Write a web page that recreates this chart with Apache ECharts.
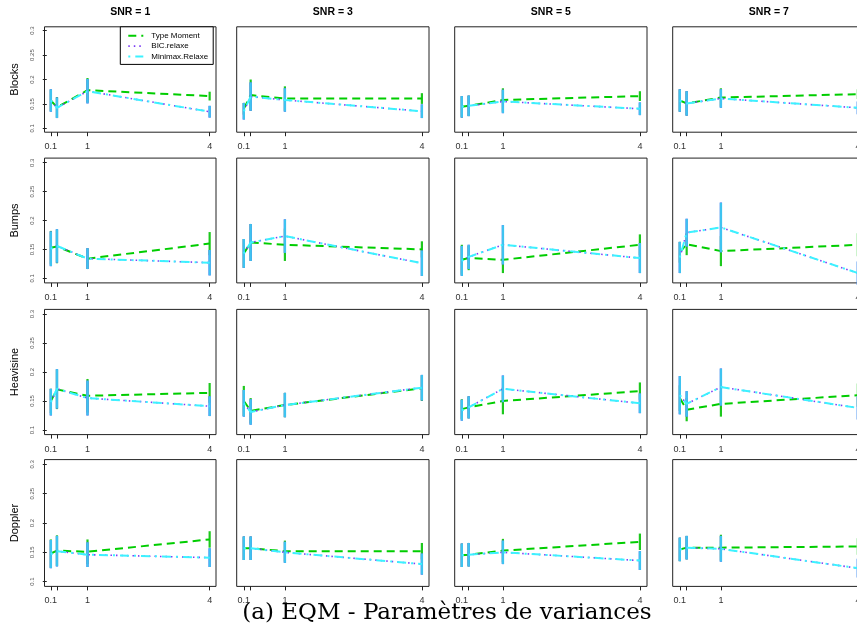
<!DOCTYPE html>
<html><head><meta charset="utf-8">
<script src="https://cdn.jsdelivr.net/npm/echarts@6/dist/echarts.min.js"></script>
<style>html,body{margin:0;padding:0;background:#fff}#c{width:857px;height:633px}</style>
</head><body><div id="c"></div>
<script>
// ---- data ----
const xValues = [0.1, 0.25, 1, 4];
const xTickLabels = [0.1, 1, 4];
const yTicks = [0.1, 0.15, 0.2, 0.25, 0.3];
const signals = ['Blocks', 'Bumps', 'Heavisine', 'Doppler'];
const snrLevels = [1, 3, 5, 7];
const methods = ['Type Moment', 'BIC.relaxe', 'Minimax.Relaxe'];

// [signal][snr][x]
const typeMomentMean = [
  [[0.157,0.143,0.178,0.166],[0.140,0.168,0.161,0.161],[0.144,0.146,0.158,0.166],[0.157,0.151,0.163,0.170]],
  [[0.153,0.155,0.134,0.160],[0.143,0.162,0.158,0.150],[0.132,0.135,0.132,0.158],[0.145,0.159,0.147,0.158]],
  [[0.150,0.170,0.159,0.164],[0.150,0.133,0.143,0.172],[0.136,0.139,0.150,0.167],[0.155,0.135,0.145,0.160]],
  [[0.148,0.153,0.151,0.172],[0.157,0.157,0.152,0.152],[0.145,0.146,0.153,0.168],[0.155,0.158,0.158,0.160]]
];
const typeMomentErr = [
  [[0.022,0.021,0.025,0.009],[0.012,0.032,0.025,0.011],[0.022,0.021,0.024,0.010],[0.023,0.025,0.019,0.010]],
  [[0.029,0.029,0.018,0.020],[0.025,0.032,0.028,0.014],[0.026,0.021,0.023,0.018],[0.018,0.019,0.026,0.020]],
  [[0.021,0.034,0.029,0.017],[0.026,0.022,0.021,0.022],[0.017,0.019,0.023,0.015],[0.022,0.020,0.022,0.020]],
  [[0.024,0.026,0.021,0.014],[0.020,0.020,0.018,0.014],[0.020,0.020,0.020,0.014],[0.020,0.020,0.022,0.014]]
];
const bicRelaxeMean = [
  [[0.157,0.142,0.176,0.134],[0.135,0.165,0.158,0.135],[0.144,0.146,0.155,0.140],[0.157,0.151,0.161,0.142]],
  [[0.151,0.156,0.134,0.127],[0.143,0.162,0.173,0.126],[0.130,0.137,0.158,0.135],[0.136,0.179,0.188,0.109]],
  [[0.148,0.171,0.155,0.141],[0.146,0.131,0.143,0.173],[0.134,0.139,0.171,0.146],[0.160,0.145,0.174,0.138]],
  [[0.147,0.152,0.146,0.141],[0.157,0.157,0.150,0.130],[0.145,0.146,0.150,0.136],[0.155,0.158,0.156,0.123]]
];
const bicRelaxeErr = [
  [[0.023,0.021,0.025,0.012],[0.017,0.029,0.024,0.014],[0.022,0.021,0.024,0.013],[0.023,0.025,0.019,0.013]],
  [[0.030,0.029,0.018,0.022],[0.025,0.032,0.029,0.022],[0.026,0.021,0.034,0.026],[0.027,0.024,0.043,0.020]],
  [[0.023,0.034,0.030,0.017],[0.023,0.022,0.021,0.022],[0.018,0.019,0.023,0.017],[0.033,0.022,0.032,0.020]],
  [[0.024,0.026,0.021,0.016],[0.020,0.020,0.018,0.018],[0.020,0.020,0.020,0.016],[0.020,0.020,0.022,0.016]]
];
const minimaxRelaxeMean = [
  [[0.157,0.142,0.176,0.134],[0.135,0.165,0.158,0.135],[0.144,0.146,0.155,0.140],[0.157,0.151,0.161,0.142]],
  [[0.151,0.156,0.134,0.127],[0.143,0.162,0.173,0.126],[0.130,0.137,0.158,0.135],[0.136,0.179,0.188,0.109]],
  [[0.148,0.171,0.155,0.141],[0.146,0.131,0.143,0.173],[0.134,0.139,0.171,0.146],[0.160,0.145,0.174,0.138]],
  [[0.147,0.152,0.146,0.141],[0.157,0.157,0.150,0.130],[0.145,0.146,0.150,0.136],[0.155,0.158,0.156,0.123]]
];
const minimaxRelaxeErr = [
  [[0.023,0.021,0.025,0.012],[0.017,0.029,0.024,0.014],[0.022,0.021,0.024,0.013],[0.023,0.025,0.019,0.013]],
  [[0.030,0.029,0.018,0.022],[0.025,0.032,0.029,0.022],[0.026,0.021,0.034,0.026],[0.027,0.024,0.043,0.020]],
  [[0.023,0.034,0.030,0.017],[0.023,0.022,0.021,0.022],[0.018,0.019,0.023,0.017],[0.033,0.022,0.032,0.020]],
  [[0.024,0.026,0.021,0.016],[0.020,0.020,0.018,0.018],[0.020,0.020,0.020,0.016],[0.020,0.020,0.022,0.016]]
];
const caption = '(a) EQM - Paramètres de variances';

// ---- layout ----
const chart = echarts.init(document.getElementById('c'), null, {renderer: 'canvas', width: 857, height: 633});
const font = '"Liberation Sans", Arial, Helvetica, sans-serif';
const colLeft = [44.5, 236.7, 454.7, 672.7], colWidth = [171.5, 192.3, 192.3, 192.3];
const rowTop = [26.8, 158.1, 309.4, 459.6], rowHeight = [105.4, 124.8, 125.2, 126.8];
const means = [typeMomentMean, bicRelaxeMean, minimaxRelaxeMean];
const errs = [typeMomentErr, bicRelaxeErr, minimaxRelaxeErr];
const styles = [
  {color: '#00CD00', bar: '#1DC81D', width: 2, type: [8, 5], barW: 2.2},
  {color: '#7B3CF5', bar: '#7B3CF5', width: 1.6, type: [1.5, 4], barW: 2.2},
  {color: '#3CF2FF', bar: '#3EC3F0', width: 2, type: [2, 5, 9, 5], barW: 2.4}
];

const grids = [], xAxes = [], yAxes = [], series = [], graphics = [];
let k = 0;
for (let r = 0; r < 4; r++) {
  for (let c = 0; c < 4; c++) {
    grids.push({left: colLeft[c], top: rowTop[r], width: colWidth[c], height: rowHeight[r],
      containLabel: false, outerBoundsMode: 'none',
      show: true, borderColor: '#222', borderWidth: 1, backgroundColor: 'transparent'});
    xAxes.push({type: 'value', gridIndex: k, min: -0.056, max: 4.156,
      axisLine: {show: false}, splitLine: {show: false},
      axisTick: {show: true, customValues: xValues, length: 4, lineStyle: {color: '#222'}},
      axisLabel: {show: true, customValues: xTickLabels, fontSize: 9, color: '#333', margin: 10, fontFamily: font, hideOverlap: false}});
    yAxes.push({type: 'value', gridIndex: k, min: 0.092, max: 0.308,
      axisLine: {show: false}, splitLine: {show: false},
      axisTick: {show: c === 0, customValues: yTicks, length: 4, lineStyle: {color: '#222'}},
      axisLabel: {show: c === 0, customValues: yTicks, rotate: 90, fontSize: 6, color: '#555', margin: 9, fontFamily: font}});
    for (let m = 0; m < 3; m++) {
      const st = styles[m];
      const mu = means[m][r][c], er = errs[m][r][c];
      series.push({
        type: 'line', name: methods[m], xAxisIndex: k, yAxisIndex: k, silent: true, z: 3 + m * 2,
        color: st.color, symbol: 'none', showSymbol: false,
        lineStyle: {color: st.color, width: st.width, type: st.type},
        data: xValues.map((x, i) => [x, mu[i]])
      });
      series.push({
        type: 'custom', name: methods[m] + ' (barres)', xAxisIndex: k, yAxisIndex: k, silent: true, z: 2 + m * 2,
        data: xValues.map((x, i) => [x, mu[i] - er[i], mu[i] + er[i]]),
        encode: {x: 0, y: [1, 2]},
        renderItem: (params, api) => {
          const p1 = api.coord([api.value(0), api.value(1)]);
          const p2 = api.coord([api.value(0), api.value(2)]);
          return {type: 'line', shape: {x1: p1[0], y1: p1[1], x2: p2[0], y2: p2[1]},
            style: {stroke: st.bar, lineWidth: st.barW}};
        }
      });
    }
    k++;
  }
}

// column titles
for (let c = 0; c < 4; c++) {
  graphics.push({type: 'text', x: colLeft[c] + colWidth[c] / 2, y: 12.5, z: 100,
    style: {text: 'SNR = ' + snrLevels[c], font: 'bold 10.5px ' + font, fill: '#000', textAlign: 'center', textVerticalAlign: 'middle'}});
}
// row labels
for (let r = 0; r < 4; r++) {
  graphics.push({type: 'text', x: 15, y: rowTop[r] + rowHeight[r] / 2, rotation: Math.PI / 2, z: 100,
    style: {text: signals[r], font: '11px ' + font, fill: '#000', textAlign: 'center', textVerticalAlign: 'middle'}});
}
// caption band
graphics.push({type: 'rect', left: 0, top: 603, z: 200, shape: {width: 857, height: 30}, style: {fill: '#fff'}});
graphics.push({type: 'text', x: 447, y: 613, z: 201,
  style: {text: caption, font: '23px "DejaVu Serif", "Liberation Serif", serif', fill: '#000', textAlign: 'center', textVerticalAlign: 'middle'}});

chart.setOption({
  animation: false,
  backgroundColor: '#fff',
  grid: grids, xAxis: xAxes, yAxis: yAxes, series: series,
  legend: {
    data: methods, orient: 'vertical', left: 120.3, top: 26.8, z: 50,
    backgroundColor: '#fff', borderColor: '#000', borderWidth: 1,
    padding: [5, 5, 4, 7], itemWidth: 15, itemHeight: 8, itemGap: 2.3,
    selectedMode: false,
    itemStyle: {opacity: 0},
    lineStyle: {type: 'inherit', width: 'inherit'},
    textStyle: {fontSize: 8, color: '#000', fontFamily: font, padding: [0, 0, 0, 3]}
  },
  graphic: graphics
});
</script>
</body></html>
